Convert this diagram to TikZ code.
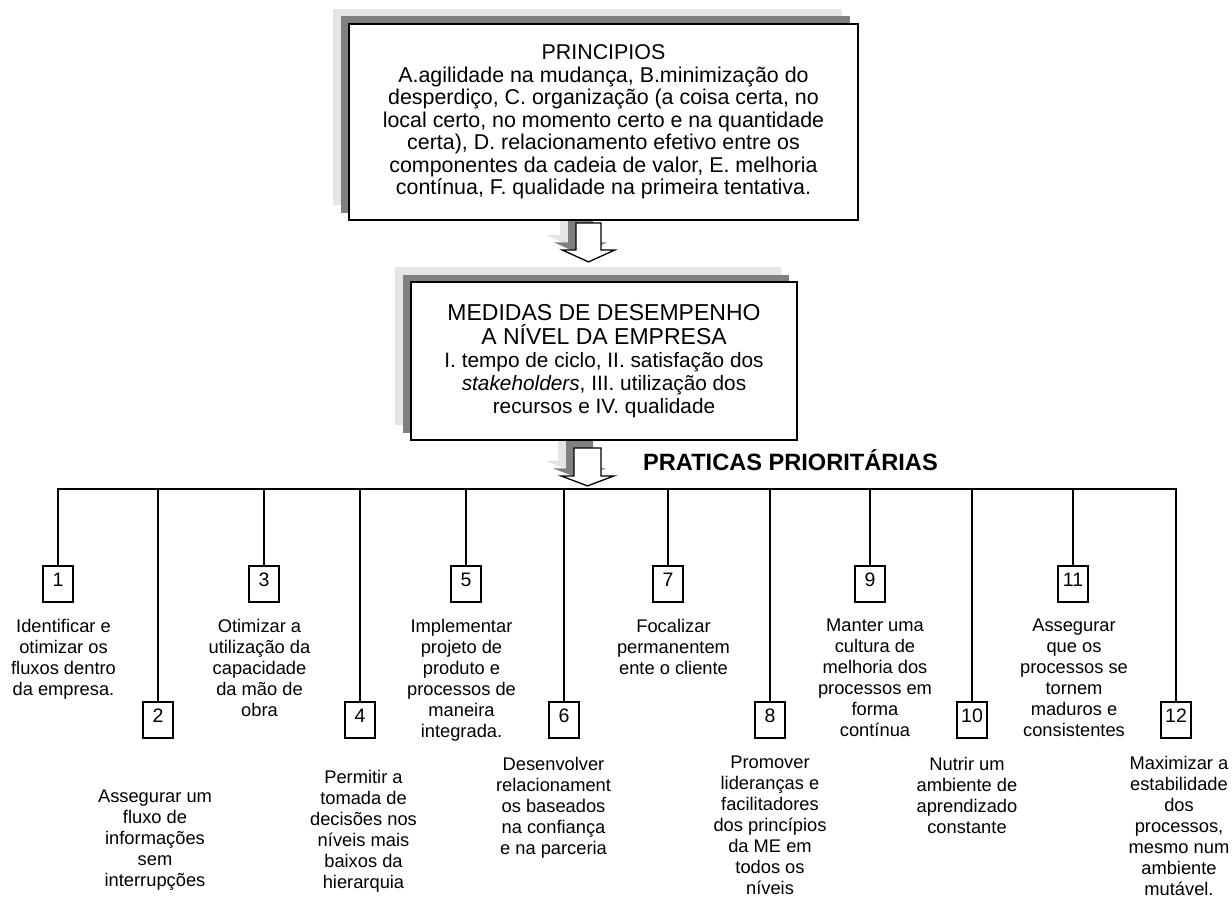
\documentclass[tikz,border=0pt]{standalone}
\usepackage{fontspec}
\setmainfont{Liberation Sans}
\usetikzlibrary{positioning,shadows,backgrounds}

\begin{document}
\begin{tikzpicture}[x=1pt,y=1pt,
  box/.style={draw,line width=1.8pt,fill=white,align=center,inner sep=0pt,
    general shadow={fill=black!10,shadow xshift=-16pt,shadow yshift=15pt},
    general shadow={fill=black!50,shadow xshift=-8pt,shadow yshift=7.5pt}},
  blockarr/.style={draw,line width=1.3pt,fill=white,line join=miter,
    general shadow={fill=black!10,shadow xshift=-16pt,shadow yshift=15pt},
    general shadow={fill=black!50,shadow xshift=-8pt,shadow yshift=7.5pt}},
  num/.style={draw,line width=1.8pt,minimum width=30pt,minimum height=36pt,
    inner sep=0pt,outer sep=0pt,text height=14pt,text depth=8.6pt,
    font=\fontsize{19.5}{21}\selectfont},
  pdesc/.style={align=center,inner sep=0pt,font=\fontsize{18.3}{21.1}\selectfont},
  bus/.style={line width=1.8pt}]
\useasboundingbox (0,0) rectangle (1232,-899);

% principios e medidas
\node[box,minimum width=509pt,minimum height=196pt,font=\fontsize{21.4}{22.5}\selectfont] (princ) at (603.5,-122)
  {PRINCIPIOS\\
   A.agilidade na mudança, B.minimização do\\
   desperdiço, C. organização (a coisa certa, no\\
   local certo, no momento certo e na quantidade\\
   certa), D. relacionamento efetivo entre os\\
   componentes da cadeia de valor, E. melhoria\\
   contínua, F. qualidade na primeira tentativa.};
\node[box,minimum width=386pt,minimum height=158pt,font=\fontsize{20.8}{23}\selectfont] (medidas) at (604,-361)
  {\fontsize{23}{23}\selectfont MEDIDAS DE DESEMPENHO\\[1pt]
   \fontsize{23}{23}\selectfont A NÍVEL DA EMPRESA\\
   \fontsize{20.8}{23}\selectfont I. tempo de ciclo, II. satisfação dos\\
   \textit{stakeholders}, III. utilização dos\\
   recursos e IV. qualidade};
\node[anchor=base west,inner sep=0pt,font=\bfseries\fontsize{23.6}{26}\selectfont] (prat) at (643,-470) {PRATICAS PRIORITÁRIAS};

\begin{scope}[on background layer]
\draw[blockarr] ([xshift=-27.5pt,yshift=-2pt]princ.south) -- ++(25,0) -- ++(0,-27) -- ++(14,0)
  -- ++(-26.5,-12) -- ++(-26.5,12) -- ++(14,0) -- cycle;
\draw[blockarr] ([xshift=-30pt,yshift=-7pt]medidas.south) -- ++(27,0) -- ++(0,-28) -- ++(13,0)
  -- ++(-26.5,-10) -- ++(-26.5,10) -- ++(13,0) -- cycle;
\end{scope}

% praticas
\node[num] (p1) at (58,-584) {1};
\node[num] (p2) at (158,-720) {2};
\node[num] (p3) at (264,-584) {3};
\node[num] (p4) at (360,-720) {4};
\node[num] (p5) at (466,-584) {5};
\node[num] (p6) at (564,-720) {6};
\node[num] (p7) at (668,-584) {7};
\node[num] (p8) at (770,-720) {8};
\node[num] (p9) at (870,-584) {9};
\node[num] (p10) at (972,-720) {10};
\node[num] (p11) at (1073,-584) {11};
\node[num] (p12) at (1176,-720) {12};

\node[pdesc,below=16.6pt of p1,xshift=5.5pt] (d1) {Identificar e\\otimizar os\\fluxos dentro\\da empresa.};
\node[pdesc,below=51.6pt of p2,xshift=-3pt] (d2) {Assegurar um\\fluxo de\\informações\\sem\\interrupções};
\node[pdesc,below=16.6pt of p3,xshift=-4.5pt] (d3) {Otimizar a\\utilização da\\capacidade\\da mão de\\obra};
\node[pdesc,below=31.6pt of p4,xshift=3.5pt] (d4) {Permitir a\\tomada de\\decisões nos\\níveis mais\\baixos da\\hierarquia};
\node[pdesc,below=16.6pt of p5,xshift=-4.5pt] (d5) {Implementar\\projeto de\\produto e\\processos de\\maneira\\integrada.};
\node[pdesc,below=18.6pt of p6,xshift=-10.5pt] (d6) {Desenvolver\\relacionament\\os baseados\\na confiança\\e na parceria};
\node[pdesc,below=16.6pt of p7,xshift=5.5pt] (d7) {Focalizar\\permanentem\\ente o cliente};
\node[pdesc,below=17.6pt of p8] (d8) {Promover\\lideranças e\\facilitadores\\dos princípios\\da ME em\\todos os\\níveis};
\node[pdesc,below=16.6pt of p9,xshift=5pt] (d9) {Manter uma\\cultura de\\melhoria dos\\processos em\\forma\\contínua};
\node[pdesc,below=18.6pt of p10,xshift=-5pt] (d10) {Nutrir um\\ambiente de\\aprendizado\\constante};
\node[pdesc,below=16.6pt of p11,xshift=1pt] (d11) {Assegurar\\que os\\processos se\\tornem\\maduros e\\consistentes};
\node[pdesc,below=17.6pt of p12,xshift=3pt] (d12) {Maximizar a\\estabilidade\\dos\\processos,\\mesmo num\\ambiente\\mutável.};

% barramento
\coordinate (bus) at (588,-489);
\draw[bus] (p1.north) |- (bus) -| (p12.north);
\draw[bus] (p2.north) -- (p2.north |- bus);
\draw[bus] (p3.north) -- (p3.north |- bus);
\draw[bus] (p4.north) -- (p4.north |- bus);
\draw[bus] (p5.north) -- (p5.north |- bus);
\draw[bus] (p6.north) -- (p6.north |- bus);
\draw[bus] (p7.north) -- (p7.north |- bus);
\draw[bus] (p8.north) -- (p8.north |- bus);
\draw[bus] (p9.north) -- (p9.north |- bus);
\draw[bus] (p10.north) -- (p10.north |- bus);
\draw[bus] (p11.north) -- (p11.north |- bus);
\end{tikzpicture}
\end{document}
